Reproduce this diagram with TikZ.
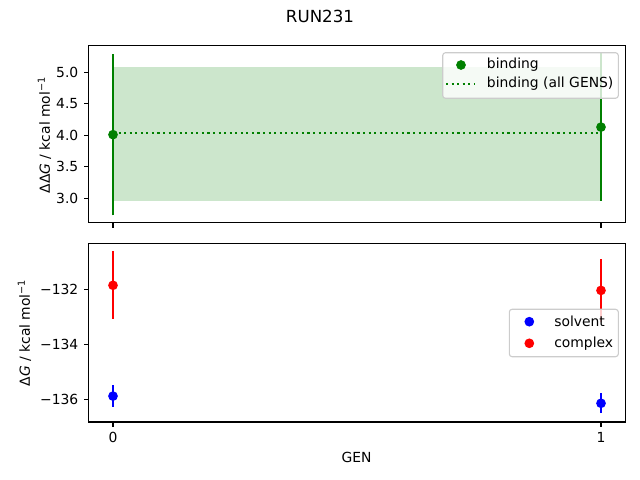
\documentclass[tikz,border=0pt]{standalone}
\usepackage{fontspec}
\setmainfont{DejaVu Sans}
\definecolor{mplgreen}{RGB}{0,128,0}
\definecolor{mplred}{RGB}{255,0,0}
\definecolor{mplblue}{RGB}{0,0,255}

\begin{document}
\begin{tikzpicture}[x=0.72pt, y=0.72pt, font=\fontsize{10}{12}\selectfont,
        frame/.style={line width=0.8pt},
        errbar/.style={line width=1.5pt},
        dot/.style={circle, inner sep=0pt, minimum size=7pt},
        legendbox/.style={draw=black!20, fill=white, fill opacity=0.8, rounded corners=2pt, line width=0.8pt},
        ticklabel/.style={inner sep=3.5pt}]
        \useasboundingbox (0,0) rectangle (640,480);
        \node (title) at (320,463.5) {\fontsize{12}{14}\selectfont RUN231};

        % upper panel: binding free energy
        \begin{scope}[shift={(113,92.7)}, x=351.36pt, y=45.36pt]
            \fill[mplgreen, opacity=0.2] (0,2.96) rectangle (1,5.09);
            \draw[mplgreen, line width=1.5pt, dash pattern=on 1.5pt off 2.5pt] (0,4.03) -- (1,4.03);
            \draw[mplgreen, errbar] (0,2.73) -- (0,5.29);
            \draw[mplgreen, errbar] (1,2.96) -- (1,5.30);
            \node[dot, fill=mplgreen] (bind0) at (0,4.01) {};
            \node[dot, fill=mplgreen] (bind1) at (1,4.13) {};
            \draw[frame] (-0.05,2.61) rectangle (1.05,5.43);
            \foreach \y in {3.0,3.5,4.0,4.5,5.0} {
                \draw[frame] (-0.05,\y) -- ++(-3.5pt,0) node[left, ticklabel] (ytop\y) {\y};
            }
            \foreach \x in {0,1} {
                \draw[frame] (\x,2.61) -- ++(0,-3.5pt);
            }
        \end{scope}
        \node[rotate=90] (ylabeltop) at (44.5,345) {ΔΔ{\itshape G} / kcal mol\textsuperscript{−1}};

        % legend of upper panel
        \draw[legendbox] (442.7,381.7) rectangle (618.3,427.3);
        \node[dot, fill=mplgreen] (legbind) at (461,415) {};
        \node[right, inner sep=0pt] (legbindtext) at (486.7,415) {binding};
        \draw[mplgreen, line width=1.5pt, dash pattern=on 1.5pt off 2.5pt] (446,396) -- (475,396);
        \node[right, inner sep=0pt] (legalltext) at (486.7,396) {binding (all GENS)};

        % lower panel: solvent and complex legs
        \begin{scope}[shift={(113,3833.9)}, x=351.36pt, y=19.872pt]
            \draw[mplblue, errbar] (0,-136.26) -- (0,-135.48);
            \draw[mplblue, errbar] (1,-136.49) -- (1,-135.77);
            \node[dot, fill=mplblue] (solv0) at (0,-135.87) {};
            \node[dot, fill=mplblue] (solv1) at (1,-136.13) {};
            \draw[mplred, errbar] (0,-133.07) -- (0,-130.63);
            \draw[mplred, errbar] (1,-133.18) -- (1,-130.90);
            \node[dot, fill=mplred] (cplx0) at (0,-131.855) {};
            \node[dot, fill=mplred] (cplx1) at (1,-132.04) {};
            \draw[frame] (-0.05,-136.81) rectangle (1.05,-130.33);
            \foreach \y in {132,134,136} {
                \draw[frame] (-0.05,-\y) -- ++(-3.5pt,0) node[left, ticklabel] (ybot\y) {−\y};
            }
            \foreach \x in {0,1} {
                \draw[frame] (\x,-136.81) -- ++(0,-3.5pt) node[below, ticklabel] (xbot\x) {\x};
            }
        \end{scope}
        \node[rotate=90] (ylabelbot) at (24.5,147.3) {Δ{\itshape G} / kcal mol\textsuperscript{−1}};
        \node (xlabel) at (356.5,23) {GEN};

        % legend of lower panel
        \draw[legendbox] (509.3,123.3) rectangle (618.3,170.7);
        \node[dot, fill=mplblue] (legsolv) at (529.3,158.3) {};
        \node[right, inner sep=0pt] (legsolvtext) at (554,158.3) {solvent};
        \node[dot, fill=mplred] (legcplx) at (529.3,136.7) {};
        \node[right, inner sep=0pt] (legcplxtext) at (554,136.7) {complex};
    \end{tikzpicture}
\end{document}
